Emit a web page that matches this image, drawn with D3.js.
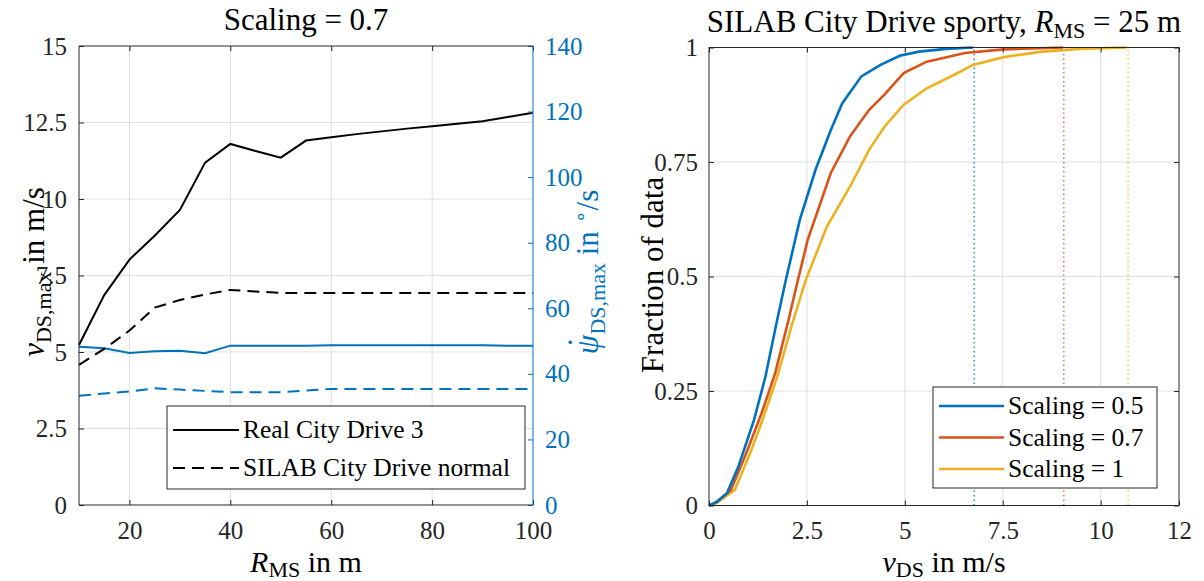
<!DOCTYPE html>
<html><head><meta charset="utf-8">
<script src="https://cdn.jsdelivr.net/npm/d3@7"></script>
<style>
body{margin:0;background:#fff}
</style>
</head><body>
<svg id="c" width="1204" height="581" font-family="Liberation Serif"></svg>
<script>
const FONT = "Liberation Serif";
// ---------- Left panel data ----------
const radius = [10,15,20,25,30,35,40,45,50,55,60,65,70,75,80,85,90,95,100];
const realSpeed  = [5.23,6.86,8.02,8.8,9.64,11.19,11.8,11.57,11.35,11.91,12.02,12.12,12.21,12.3,12.38,12.46,12.54,12.68,12.82];
const silabSpeed = [4.58,5.1,5.7,6.45,6.7,6.88,7.03,6.98,6.93,6.93,6.93,6.93,6.93,6.93,6.93,6.93,6.93,6.93,6.93];
const realYaw    = [48.3,47.8,46.4,46.9,47.05,46.3,48.6,48.6,48.6,48.6,48.7,48.7,48.7,48.7,48.7,48.7,48.7,48.6,48.6];
const silabYaw   = [33.3,34.0,34.6,35.6,35.2,34.8,34.4,34.4,34.4,34.9,35.4,35.4,35.4,35.4,35.4,35.4,35.4,35.4,35.4];
const leftXTicks = [20,40,60,80,100];
const leftYTicks = [0,2.5,5,7.5,10,12.5,15];
const rightYTicks = [0,20,40,60,80,100,120,140];
const leftLegend = ["Real City Drive 3","SILAB City Drive normal"];

// ---------- Right panel data ----------
const cdfX05 = [0,0.2,0.46,0.75,1.15,1.44,1.74,1.96,2.32,2.72,3.11,3.40,3.89,4.38,4.87,5.36,6.05,6.74];
const cdfY05 = [0,0.008,0.027,0.085,0.187,0.281,0.405,0.492,0.624,0.733,0.820,0.878,0.937,0.962,0.982,0.991,0.997,1.0];
const cdfX07 = [0,0.2,0.56,0.95,1.34,1.69,2.03,2.27,2.52,3.11,3.60,4.09,4.48,4.97,5.56,6.54,7.52,9.04];
const cdfY07 = [0,0.008,0.034,0.114,0.201,0.289,0.405,0.492,0.58,0.726,0.806,0.864,0.897,0.944,0.969,0.988,0.996,1.0];
const cdfX10 = [0,0.2,0.66,1.05,1.34,1.74,2.13,2.47,3.01,3.60,4.09,4.48,4.97,5.56,6.25,6.74,7.52,8.50,9.48,10.66];
const cdfY10 = [0,0.006,0.034,0.114,0.18,0.281,0.398,0.492,0.609,0.696,0.777,0.827,0.875,0.911,0.940,0.962,0.979,0.991,0.997,1.0];
const maxSpeeds = [6.77,9.06,10.7];
const cdfLegend = ["Scaling = 0.5","Scaling = 0.7","Scaling = 1"];
const cdfXTicks = [0,2.5,5,7.5,10,12];
const cdfYTicks = [0,0.25,0.5,0.75,1];

const BLUE="#0072BD", RED="#D95319", YEL="#EDB120", AX="#262626", GRID="#dfdfdf";
const FS=25, FL=25.5, FT=31, FX=30, FSUB=22;
const svg = d3.select("#c");

function txt(sel, size){ return sel.attr("font-family",FONT).attr("font-size",size); }
function styleAxis(g, color, hideText){
  g.attr("font-family",FONT).attr("font-size",FS);
  g.select(".domain").remove();
  g.selectAll(".tick line").attr("stroke",color).attr("stroke-width",1);
  g.selectAll(".tick text").attr("fill",color).attr("font-family",FONT).attr("font-size",FS);
  if(hideText) g.selectAll(".tick text").remove();
}
function fmt(v){ return String(v); }

// ================= LEFT PANEL =================
const xL = d3.scaleLinear().domain([10,100]).range([79,533]);
const yL = d3.scaleLinear().domain([0,15]).range([505,46]);
const yR = d3.scaleLinear().domain([0,140]).range([505,46]);

const gL = svg.append("g");
gL.selectAll(".vg").data(leftXTicks.filter(d=>d<100)).enter().append("line")
  .attr("x1",d=>xL(d)).attr("x2",d=>xL(d)).attr("y1",yL(0)).attr("y2",yL(15))
  .attr("stroke",GRID).attr("stroke-width",1);
gL.selectAll(".hg").data(leftYTicks.filter(d=>d>0&&d<15)).enter().append("line")
  .attr("x1",xL(10)).attr("x2",xL(100)).attr("y1",d=>yL(d)).attr("y2",d=>yL(d))
  .attr("stroke",GRID).attr("stroke-width",1);

const lineV = (arr)=>d3.line().x((d,i)=>xL(radius[i])).y(d=>yL(d))(arr);
const lineP = (arr)=>d3.line().x((d,i)=>xL(radius[i])).y(d=>yR(d))(arr);
gL.append("path").attr("d",lineP(realYaw)).attr("fill","none").attr("stroke",BLUE).attr("stroke-width",2);
gL.append("path").attr("d",lineP(silabYaw)).attr("fill","none").attr("stroke",BLUE).attr("stroke-width",2).attr("stroke-dasharray","12,7");
gL.append("path").attr("d",lineV(realSpeed)).attr("fill","none").attr("stroke","#000").attr("stroke-width",2);
gL.append("path").attr("d",lineV(silabSpeed)).attr("fill","none").attr("stroke","#000").attr("stroke-width",2).attr("stroke-dasharray","12,7");

gL.append("g").attr("transform",`translate(0,${yL(0)})`)
  .call(d3.axisBottom(xL).tickValues(leftXTicks).tickSize(-5).tickSizeOuter(0).tickPadding(16).tickFormat(fmt))
  .call(g=>styleAxis(g,AX));
gL.append("g").attr("transform",`translate(0,${yL(15)})`)
  .call(d3.axisTop(xL).tickValues(leftXTicks).tickSize(-5).tickSizeOuter(0))
  .call(g=>styleAxis(g,AX,true));
gL.append("g").attr("transform",`translate(${xL(10)},0)`)
  .call(d3.axisLeft(yL).tickValues(leftYTicks).tickSize(-5).tickSizeOuter(0).tickPadding(12).tickFormat(fmt))
  .call(g=>styleAxis(g,AX));
gL.append("g").attr("transform",`translate(${xL(100)},0)`)
  .call(d3.axisRight(yR).tickValues(rightYTicks).tickSize(-5).tickSizeOuter(0).tickPadding(12).tickFormat(fmt))
  .call(g=>styleAxis(g,BLUE));
gL.append("line").attr("x1",xL(10)).attr("x2",xL(100)).attr("y1",yL(0)).attr("y2",yL(0)).attr("stroke",AX);
gL.append("line").attr("x1",xL(10)).attr("x2",xL(100)).attr("y1",yL(15)).attr("y2",yL(15)).attr("stroke",AX);
gL.append("line").attr("x1",xL(10)).attr("x2",xL(10)).attr("y1",yL(0)).attr("y2",yL(15)).attr("stroke",AX);
gL.append("line").attr("x1",xL(100)).attr("x2",xL(100)).attr("y1",yL(0)).attr("y2",yL(15)).attr("stroke",BLUE);

const lg = gL.append("g");
lg.append("rect").attr("x",167).attr("y",406).attr("width",358).attr("height",83)
  .attr("fill","#fff").attr("stroke",AX).attr("stroke-width",1);
leftLegend.forEach((t,i)=>{
  const yy = 430 + i*38;
  lg.append("line").attr("x1",173).attr("x2",239).attr("y1",yy).attr("y2",yy)
    .attr("stroke","#000").attr("stroke-width",2).attr("stroke-dasharray",i?"12,7":null);
  txt(lg.append("text").attr("x",243).attr("y",yy+8).attr("fill","#000"),FL).text(t);
});

txt(svg.append("text").attr("x",306).attr("y",30).attr("text-anchor","middle"),FT).text("Scaling = 0.7");
{
  const t = txt(svg.append("text").attr("x",306).attr("y",572).attr("text-anchor","middle"),FX);
  t.append("tspan").attr("font-style","italic").text("R");
  t.append("tspan").attr("dy",5).attr("font-size",FSUB).text("MS");
  t.append("tspan").attr("dy",-5).text(" in m");
}
{
  const t = txt(svg.append("text").attr("transform","translate(44,272) rotate(-90)").attr("text-anchor","middle"),FT);
  t.append("tspan").attr("font-style","italic").text("v");
  t.append("tspan").attr("dy",7).attr("font-size",FSUB).text("DS,max");
  t.append("tspan").attr("dy",-7).text(" in m/s");
}
{
  const t = txt(svg.append("text").attr("transform","translate(598,272) rotate(-90)").attr("text-anchor","middle"),FT).attr("fill",BLUE);
  t.append("tspan").attr("font-style","italic").text("ψ");
  t.append("tspan").attr("dx",-13).attr("dy",-7).attr("font-size",34).text("˙");
  t.append("tspan").attr("dx",2).attr("dy",14).attr("font-size",FSUB).text("DS,max");
  t.append("tspan").attr("dy",-7).text(" in ");
  t.append("tspan").attr("dy",-10).attr("font-size",20).text("∘");
  t.append("tspan").attr("dy",10).text("/s");
}

// ================= RIGHT PANEL =================
const xC = d3.scaleLinear().domain([0,12]).range([709,1179]);
const yC = d3.scaleLinear().domain([0,1]).range([505.5,47.5]);
const gR = svg.append("g");
gR.selectAll(".vg").data(cdfXTicks.filter(d=>d>0&&d<12)).enter().append("line")
  .attr("x1",d=>xC(d)).attr("x2",d=>xC(d)).attr("y1",yC(0)).attr("y2",yC(1))
  .attr("stroke",GRID).attr("stroke-width",1);
gR.selectAll(".hg").data(cdfYTicks.filter(d=>d>0&&d<1)).enter().append("line")
  .attr("x1",xC(0)).attr("x2",xC(12)).attr("y1",d=>yC(d)).attr("y2",d=>yC(d))
  .attr("stroke",GRID).attr("stroke-width",1);

const series = [[cdfX05,cdfY05,BLUE],[cdfX07,cdfY07,RED],[cdfX10,cdfY10,YEL]];
series.forEach(([xs,ys,c],k)=>{
  gR.append("line").attr("x1",xC(maxSpeeds[k])).attr("x2",xC(maxSpeeds[k]))
    .attr("y1",yC(0)).attr("y2",yC(1)).attr("stroke",c).attr("stroke-width",1.2).attr("stroke-dasharray","1.5,3");
});
series.slice().reverse().forEach(([xs,ys,c])=>{
  const ln = d3.line().x((d,i)=>xC(xs[i])).y(d=>yC(d));
  gR.append("path").attr("d",ln(ys)).attr("fill","none").attr("stroke",c).attr("stroke-width",2.6);
});

gR.append("g").attr("transform",`translate(0,${yC(0)})`)
  .call(d3.axisBottom(xC).tickValues(cdfXTicks).tickSize(-5).tickSizeOuter(0).tickPadding(16).tickFormat(fmt))
  .call(g=>styleAxis(g,AX));
gR.append("g").attr("transform",`translate(0,${yC(1)})`)
  .call(d3.axisTop(xC).tickValues(cdfXTicks).tickSize(-5).tickSizeOuter(0))
  .call(g=>styleAxis(g,AX,true));
gR.append("g").attr("transform",`translate(${xC(0)},0)`)
  .call(d3.axisLeft(yC).tickValues(cdfYTicks).tickSize(-5).tickSizeOuter(0).tickPadding(11).tickFormat(fmt))
  .call(g=>styleAxis(g,AX));
gR.append("g").attr("transform",`translate(${xC(12)},0)`)
  .call(d3.axisRight(yC).tickValues(cdfYTicks).tickSize(-5).tickSizeOuter(0))
  .call(g=>styleAxis(g,AX,true));
gR.append("rect").attr("x",xC(0)).attr("y",yC(1)).attr("width",xC(12)-xC(0)).attr("height",yC(0)-yC(1))
  .attr("fill","none").attr("stroke",AX).attr("stroke-width",1);

const lg2 = gR.append("g");
lg2.append("rect").attr("x",933).attr("y",387).attr("width",224).attr("height",101)
  .attr("fill","#fff").attr("stroke",AX).attr("stroke-width",1);
cdfLegend.forEach((t,i)=>{
  const yy = 406 + i*31.5;
  lg2.append("line").attr("x1",939).attr("x2",1004).attr("y1",yy).attr("y2",yy)
    .attr("stroke",series[i][2]).attr("stroke-width",2.6);
  txt(lg2.append("text").attr("x",1008).attr("y",yy+8),FL).text(t);
});

{
  const t = txt(svg.append("text").attr("x",944).attr("y",32).attr("text-anchor","middle"),FT);
  t.append("tspan").text("SILAB City Drive sporty, ");
  t.append("tspan").attr("font-style","italic").text("R");
  t.append("tspan").attr("dy",6).attr("font-size",FSUB).text("MS");
  t.append("tspan").attr("dy",-6).text(" = 25 m");
}
{
  const t = txt(svg.append("text").attr("x",944).attr("y",572).attr("text-anchor","middle"),FX);
  t.append("tspan").attr("font-style","italic").text("v");
  t.append("tspan").attr("dy",5).attr("font-size",FSUB).text("DS");
  t.append("tspan").attr("dy",-5).text(" in m/s");
}
txt(svg.append("text").attr("transform","translate(663,275) rotate(-90)").attr("text-anchor","middle"),FT).text("Fraction of data");
</script>
</body></html>
